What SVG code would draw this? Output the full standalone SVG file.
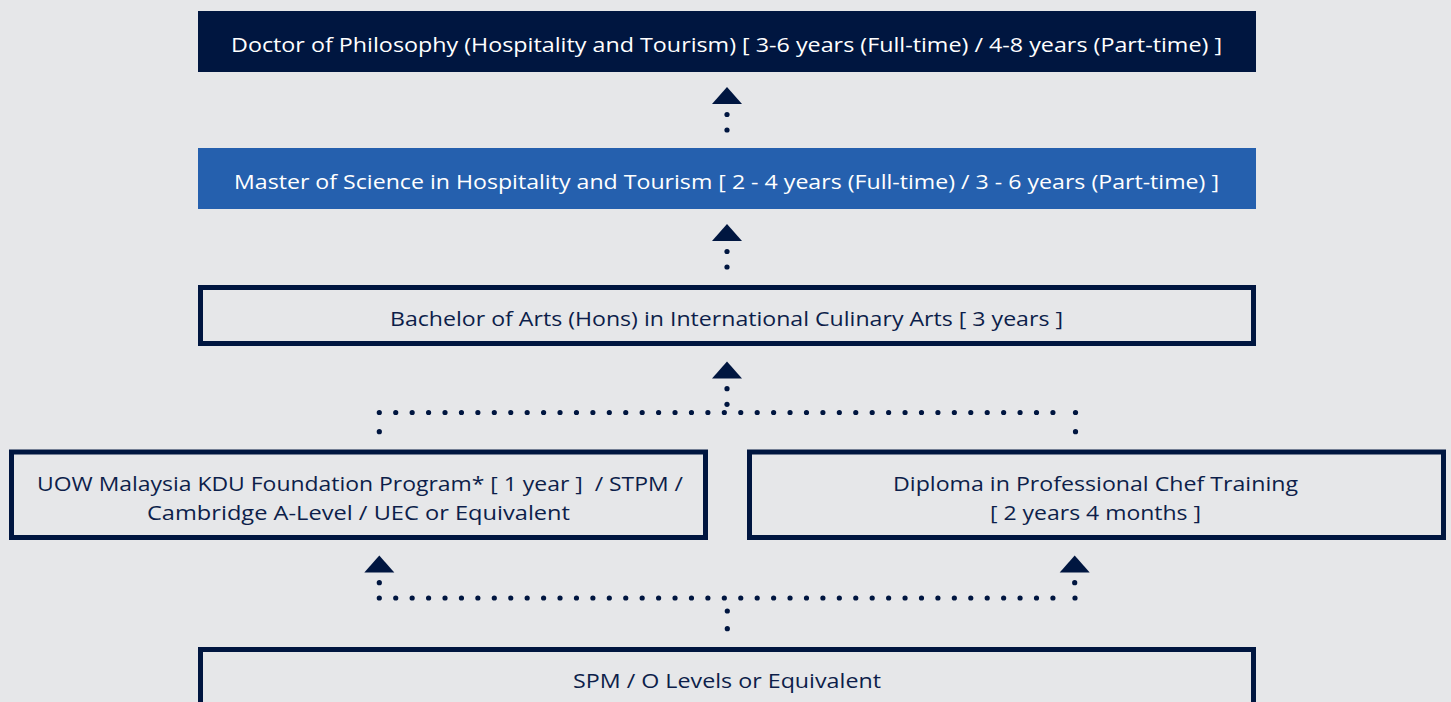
<svg xmlns="http://www.w3.org/2000/svg" xmlns:xlink="http://www.w3.org/1999/xlink" width="1451" height="702" viewBox="0 0 1451 702">
<style>
.bg{fill:#e6e7e9}
.solid{fill:#001640}
.blue{fill:#2560ae}
.outline{fill:none;stroke:#001640;stroke-width:5}
.t{font-family:"Open Sans","Liberation Sans",sans-serif;font-size:20px;text-anchor:middle}
.w{fill:#ffffff}
.n{fill:#0d1e4a}
.dot{fill:#001640}
.row{stroke:#001640;stroke-width:5.2;stroke-linecap:round;stroke-dasharray:0 16.43;fill:none}
.tri{fill:#001640}
</style>
<defs>
<path id="tri" class="tri" d="M0,-8.5 L15,8.5 L-15,8.5 Z"/>
</defs>
<rect class="bg" x="0" y="0" width="1451" height="702"/>

<g id="phd">
<rect class="solid" x="198" y="11" width="1058" height="61"/>
<text class="t w" x="726.5" y="52" textLength="991" lengthAdjust="spacingAndGlyphs">Doctor of Philosophy (Hospitality and Tourism) [ 3-6 years (Full-time) / 4-8 years (Part-time) ]</text>
</g>

<g id="master">
<rect class="blue" x="198" y="148" width="1058" height="61"/>
<text class="t w" x="726.5" y="189" textLength="985" lengthAdjust="spacingAndGlyphs">Master of Science in Hospitality and Tourism [ 2 - 4 years (Full-time) / 3 - 6 years (Part-time) ]</text>
</g>

<g id="bachelor">
<rect class="outline" x="200.5" y="287.5" width="1053" height="56"/>
<text class="t n" x="726.5" y="326" textLength="673" lengthAdjust="spacingAndGlyphs">Bachelor of Arts (Hons) in International Culinary Arts [ 3 years ]</text>
</g>

<g id="foundation">
<rect class="outline" x="11.5" y="452" width="694" height="85.5"/>
<text class="t n" x="360" y="491" xml:space="preserve" textLength="646" lengthAdjust="spacingAndGlyphs">UOW Malaysia KDU Foundation Program* [ 1 year ]  / STPM /</text>
<text class="t n" x="358.5" y="520" textLength="423" lengthAdjust="spacingAndGlyphs">Cambridge A-Level / UEC or Equivalent</text>
</g>

<g id="diploma">
<rect class="outline" x="749.5" y="452" width="694" height="85.5"/>
<text class="t n" x="1095.5" y="491" textLength="405" lengthAdjust="spacingAndGlyphs">Diploma in Professional Chef Training</text>
<text class="t n" x="1095.5" y="520" textLength="211" lengthAdjust="spacingAndGlyphs">[ 2 years 4 months ]</text>
</g>

<g id="spm">
<rect class="outline" x="200.5" y="649.5" width="1053" height="60"/>
<text class="t n" x="727" y="688" textLength="308" lengthAdjust="spacingAndGlyphs">SPM / O Levels or Equivalent</text>
</g>

<g id="connectors">
<use xlink:href="#tri" x="727" y="95.5"/>
<circle class="dot" cx="727" cy="114.5" r="2.6"/>
<circle class="dot" cx="727" cy="130" r="2.6"/>

<use xlink:href="#tri" x="727" y="232.5"/>
<circle class="dot" cx="727" cy="251.5" r="2.6"/>
<circle class="dot" cx="727" cy="267" r="2.6"/>

<use xlink:href="#tri" x="727" y="370"/>
<circle class="dot" cx="727" cy="388.7" r="2.6"/>
<circle class="dot" cx="727" cy="404.3" r="2.6"/>
<line class="row" x1="379.3" y1="412.5" x2="1053" y2="412.5"/>
<circle class="dot" cx="1075.5" cy="412.5" r="2.6"/>
<circle class="dot" cx="379.3" cy="431.7" r="2.6"/>
<circle class="dot" cx="1075.5" cy="431.7" r="2.6"/>

<use xlink:href="#tri" x="379.3" y="564"/>
<use xlink:href="#tri" x="1074.7" y="564"/>
<circle class="dot" cx="379.3" cy="582.7" r="2.6"/>
<circle class="dot" cx="1074.7" cy="582.7" r="2.6"/>
<line class="row" x1="379.3" y1="598" x2="1053" y2="598"/>
<circle class="dot" cx="1075" cy="598" r="2.6"/>
<circle class="dot" cx="727.3" cy="611" r="2.6"/>
<circle class="dot" cx="727.3" cy="628.7" r="2.6"/>
</g>
</svg>
